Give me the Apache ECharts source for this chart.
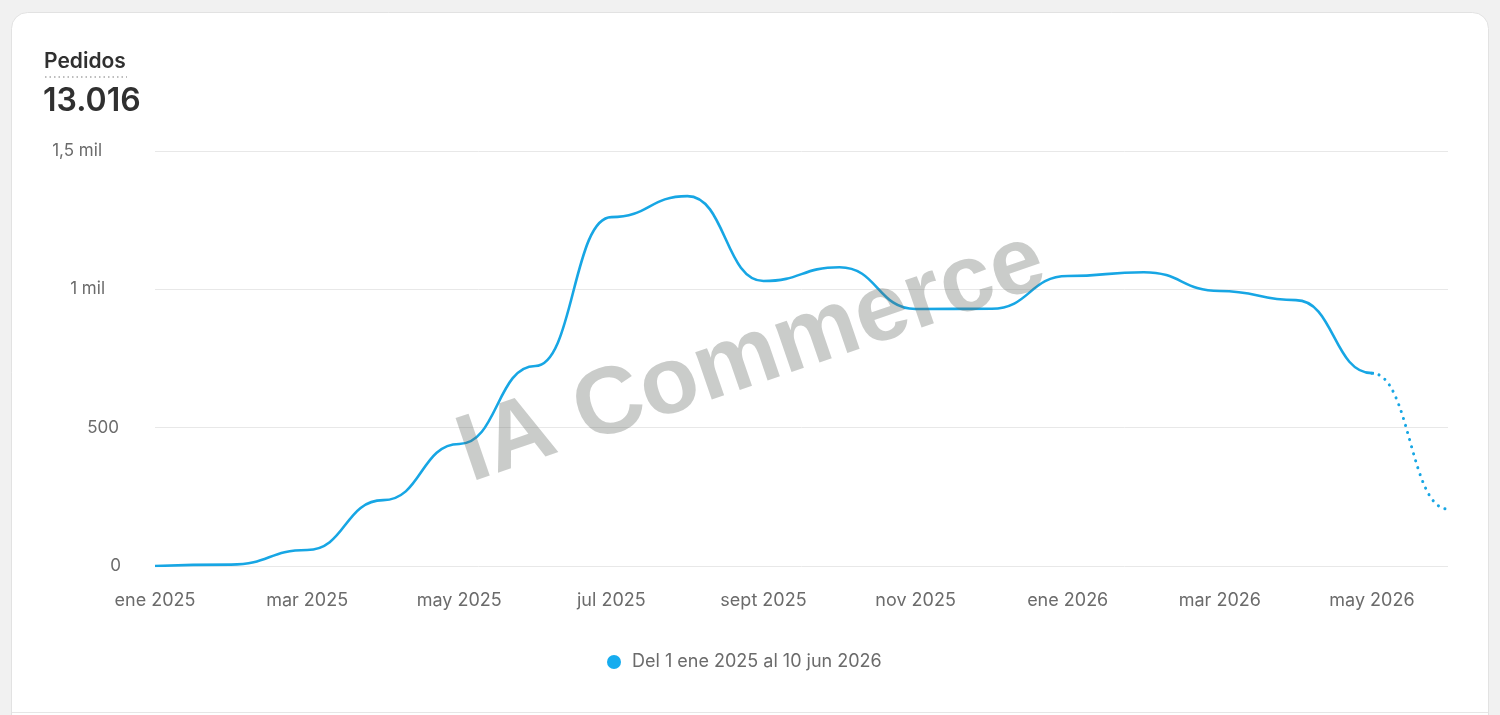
<!DOCTYPE html>
<html>
<head>
<meta charset="utf-8">
<script src="https://cdn.jsdelivr.net/npm/echarts@6/dist/echarts.min.js"></script>
<style>
html,body{margin:0;padding:0;background:#f1f1f1;}
#chart{width:1500px;height:715px;}
</style>
</head>
<body>
<div id="chart"></div>
<script>
const categories = ['ene 2025','feb 2025','mar 2025','abr 2025','may 2025','jun 2025','jul 2025','ago 2025','sept 2025','oct 2025','nov 2025','dic 2025','ene 2026','feb 2026','mar 2026','abr 2026','may 2026','jun 2026'];
const pedidos = [0, 5, 58, 238, 441, 723, 1261, 1337, 1030, 1080, 929, 930, 1048, 1062, 994, 961, 697, 206];
const yTicks = [0, 500, 1000, 1500];
const yTickLabels = ['0', '500', '1 mil', '1,5 mil'];
const seriesName = 'Del 1 ene 2025 al 10 jun 2026';
const metricTitle = 'Pedidos';
const metricTotal = '13.016';
const watermark = 'IA Commerce';

const lastFull = pedidos.length - 2;   // index of last complete month
const split = lastFull / (pedidos.length - 1);
const yLabelPad = [0, 2, 16, 19];      // visual offsets of tick labels

const chart = echarts.init(document.getElementById('chart'), null, {renderer: 'canvas'});
const FONT = 'Inter, "Noto Sans", sans-serif';
const LINE = '#17a6e4';
const CLEAR = 'rgba(23,166,228,0)';
const solidGrad = new echarts.graphic.LinearGradient(0, 0, 1, 0, [
  {offset: 0, color: LINE}, {offset: split, color: LINE},
  {offset: split + 0.0001, color: CLEAR}, {offset: 1, color: CLEAR}]);
const rich = {};
yLabelPad.forEach((p, i) => { rich['p' + i] = {padding: [0, p, 0, 0], fontSize: 17, color: '#6b6b6b', fontFamily: FONT}; });

// partial (in-progress) month segment
const partialSegment = [[lastFull, pedidos[lastFull], lastFull + 1, pedidos[lastFull + 1]]];

chart.setOption({
  backgroundColor: '#f1f1f1',
  animation: false,
  grid: {left: 155, right: 52, top: 151, bottom: 149, containLabel: false},
  xAxis: {
    type: 'category', data: categories, boundaryGap: false,
    axisLine: {show: false}, axisTick: {show: false},
    axisLabel: {interval: 1, color: '#6b6b6b', fontSize: 18, fontFamily: FONT, margin: 26}
  },
  yAxis: {
    type: 'value', min: 0, max: 1500, interval: 500,
    axisLine: {show: false}, axisTick: {show: false},
    splitLine: {lineStyle: {color: '#e8e8e8', width: 1}},
    axisLabel: {
      color: '#6b6b6b', fontSize: 17, fontFamily: FONT, margin: 34,
      formatter: v => '{p' + yTicks.indexOf(v) + '|' + yTickLabels[yTicks.indexOf(v)] + '}',
      rich: rich
    }
  },
  legend: {
    data: [seriesName], bottom: 39, left: 602, icon: 'circle',
    itemWidth: 14, itemHeight: 14, itemGap: 10,
    textStyle: {color: '#6b6b6b', fontSize: 18, fontFamily: FONT, padding: [0, 0, 0, 6]}
  },
  series: [
    {
      name: seriesName, type: 'line', data: pedidos, smooth: 0.5, smoothMonotone: 'x',
      showSymbol: false,
      itemStyle: {color: '#16acef'},
      lineStyle: {width: 2.6, color: solidGrad}, z: 3
    },
    {
      name: seriesName, type: 'custom', data: partialSegment,
      encode: {x: [0, 2], y: [1, 3]},
      itemStyle: {color: '#16acef'},
      z: 2,
      renderItem: function (params, api) {
        const p0 = api.coord([api.value(0), api.value(1)]);
        const p1 = api.coord([api.value(2), api.value(3)]);
        const dx = p1[0] - p0[0];
        return {
          type: 'bezierCurve',
          shape: {x1: p0[0], y1: p0[1], x2: p1[0], y2: p1[1],
                  cpx1: p0[0] + dx * 0.5, cpy1: p0[1], cpx2: p1[0] - dx * 0.5, cpy2: p1[1]},
          style: {stroke: LINE, fill: null, lineWidth: 3, lineDash: [0.1, 7.2], lineCap: 'round'}
        };
      }
    }
  ],
  graphic: [
    {type: 'rect', z: -10, silent: true,
     shape: {x: 11.5, y: 12.5, width: 1477, height: 740, r: 16},
     style: {fill: '#ffffff', stroke: '#e2e2e2', lineWidth: 1}},
    {type: 'line', z: -9, silent: true,
     shape: {x1: 12, y1: 712.5, x2: 1488, y2: 712.5},
     style: {stroke: '#e6e6e6', lineWidth: 1}},
    {type: 'text', left: 44, top: 51, silent: true,
     style: {text: metricTitle, fill: '#303030', font: '600 21px ' + FONT}},
    {type: 'line', silent: true,
     shape: {x1: 45, y1: 77, x2: 127, y2: 77},
     style: {stroke: '#bdbdbd', lineWidth: 2, lineDash: [1.5, 3]}},
    {type: 'text', left: 43, top: 85, silent: true,
     style: {text: metricTotal, fill: '#303030', font: '600 32px ' + FONT}},
    {type: 'text', silent: true, z: 100, x: 752, y: 358, rotation: 0.33,
     style: {text: watermark, fill: 'rgba(100,106,100,0.34)', font: 'bold 95px "Liberation Sans", Arial, sans-serif',
             align: 'center', verticalAlign: 'middle'}}
  ]
});
</script>
</body>
</html>
